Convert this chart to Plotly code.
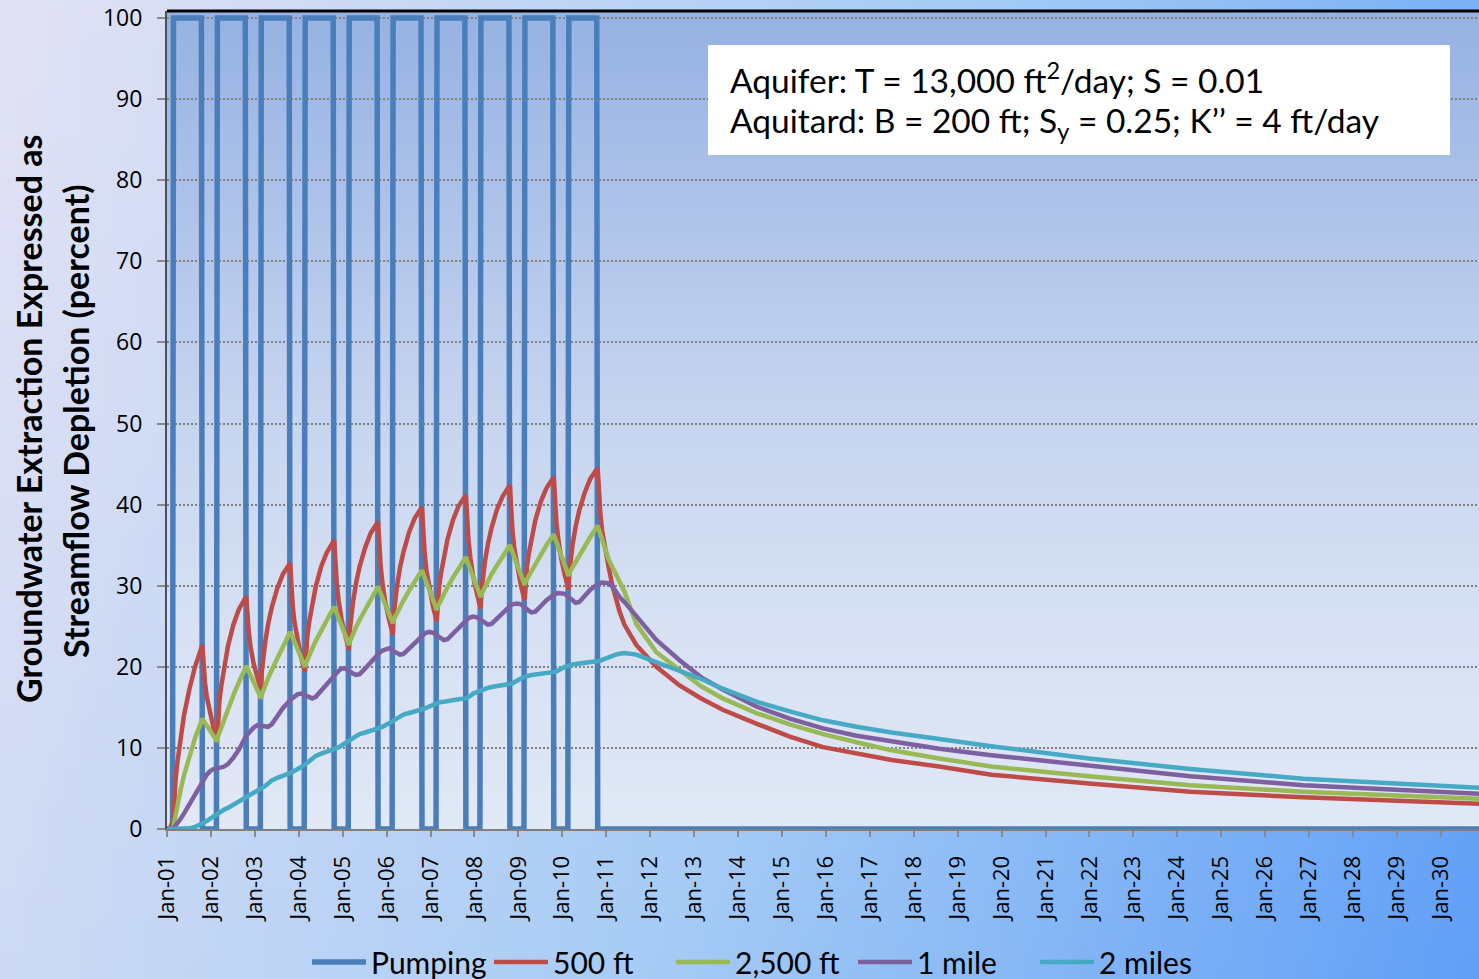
import base64, struct, zlib
import plotly.graph_objects as go

# ---------------- data ----------------
YEARS = list(range(2001, 2011))
SAMPLE_DAYS = ["01-22", "02-22", "03-01", "03-13", "03-29", "04-22", "05-22",
               "07-07", "08-22", "10-22", "11-01", "11-13", "11-28", "12-22"]
DECAY_DATES = ["2011-01-22", "2011-02-22", "2011-03-22", "2011-04-22", "2011-06-01",
               "2011-09-08", "2012-02-22", "2012-09-02", "2013-03-01", "2013-08-27",
               "2014-06-02", "2015-03-07", "2015-12-09", "2016-09-12", "2017-07-01",
               "2018-08-01", "2019-10-08", "2021-12-28", "2024-04-18", "2026-11-13",
               "2030-11-14", "2030-12-31"]
START_DATE = "2001-01-01"
END_DATE = "2030-12-31"

PUMP_EDGE_DAYS = ["02-16", "02-24", "10-14", "10-22"]
PUMP_EDGE_LEVELS = [0, 100, 100, 0]

RED_PUMPING = [
    [0.0, 1.0, 3.8, 6.0, 8.3, 11.2, 14.0, 17.3, 20.0, 22.7, 20.1, 18.0, 16.3, 14.3],
    [12.5, 11.0, 13.7, 15.8, 17.7, 20.2, 22.5, 25.2, 27.1, 28.7, 26.2, 24.1, 22.4, 20.4],
    [18.7, 17.2, 19.5, 21.4, 23.1, 25.3, 27.3, 29.7, 31.4, 32.8, 29.9, 27.4, 25.4, 23.2],
    [21.1, 19.4, 21.8, 23.8, 25.6, 27.8, 29.9, 32.4, 34.1, 35.6, 32.6, 30.2, 28.2, 25.9],
    [23.9, 22.1, 24.5, 26.4, 28.1, 30.3, 32.4, 34.7, 36.5, 37.9, 34.8, 32.3, 30.3, 27.9],
    [25.8, 24.0, 26.4, 28.2, 30.0, 32.2, 34.2, 36.6, 38.3, 39.7, 36.6, 34.1, 31.9, 29.6],
    [27.4, 25.6, 27.9, 29.8, 31.5, 33.7, 35.7, 38.1, 39.8, 41.2, 38.1, 35.6, 33.5, 31.1],
    [29.0, 27.2, 29.5, 31.3, 33.0, 35.1, 37.1, 39.4, 41.0, 42.4, 39.3, 36.7, 34.6, 32.2],
    [30.0, 28.2, 30.5, 32.3, 34.0, 36.1, 38.1, 40.4, 42.0, 43.4, 40.3, 37.8, 35.8, 33.4],
    [31.3, 29.5, 31.8, 33.6, 35.2, 37.3, 39.3, 41.5, 43.2, 44.5, 41.4, 38.9, 36.8, 34.4],
]
RED_DECAY = [32.2, 30.0, 28.3, 26.8, 25.2, 22.7, 20.0, 17.7, 16.1, 14.7, 13.0, 11.4,
             10.1, 9.3, 8.5, 7.7, 6.7, 5.6, 4.6, 3.9, 3.1, 3.1]

GREEN_PUMPING = [
    [0.0, 0.2, 0.8, 1.8, 2.9, 4.7, 6.6, 9.0, 11.2, 13.6, 13.4, 13.1, 12.8, 12.2],
    [11.5, 10.8, 11.4, 11.9, 12.6, 13.6, 14.8, 16.5, 18.1, 20.1, 19.8, 19.4, 18.9, 18.1],
    [17.1, 16.1, 16.6, 17.1, 17.7, 18.6, 19.6, 21.1, 22.5, 24.3, 24.0, 23.5, 23.0, 22.2],
    [21.1, 20.0, 20.4, 20.9, 21.4, 22.2, 23.2, 24.5, 25.8, 27.4, 27.0, 26.6, 26.0, 25.1],
    [23.9, 22.7, 23.1, 23.6, 24.1, 24.9, 25.8, 27.1, 28.3, 29.9, 29.5, 29.1, 28.6, 27.7],
    [26.5, 25.4, 25.8, 26.2, 26.6, 27.4, 28.2, 29.4, 30.5, 31.9, 31.5, 31.0, 30.4, 29.5],
    [28.2, 27.0, 27.4, 27.8, 28.2, 29.0, 29.8, 31.0, 32.1, 33.5, 33.1, 32.6, 32.0, 31.1],
    [29.8, 28.6, 29.0, 29.4, 29.8, 30.5, 31.4, 32.5, 33.6, 35.0, 34.6, 34.1, 33.5, 32.6],
    [31.3, 30.1, 30.5, 30.8, 31.3, 32.0, 32.8, 33.9, 35.0, 36.3, 35.9, 35.4, 34.8, 33.8],
    [32.5, 31.2, 31.6, 31.9, 32.4, 33.1, 33.9, 35.0, 36.0, 37.4, 37.0, 36.5, 35.8, 34.6],
]
GREEN_DECAY = [33.2, 32.3, 31.5, 30.5, 29.3, 25.3, 21.8, 19.6, 17.6, 16.1, 14.3, 12.9,
               11.7, 10.7, 9.7, 8.7, 7.7, 6.5, 5.4, 4.6, 3.7, 3.7]

PURPLE_PUMPING = [
    [0.0, 0.1, 0.2, 0.4, 0.7, 1.2, 1.9, 3.1, 4.4, 5.9, 6.1, 6.4, 6.7, 7.1],
    [7.4, 7.5, 7.5, 7.55, 7.6, 7.7, 8.0, 8.8, 9.8, 11.5, 11.7, 11.9, 12.1, 12.5],
    [12.8, 12.7, 12.65, 12.6, 12.55, 12.6, 12.9, 13.9, 14.9, 15.9, 16.0, 16.2, 16.4, 16.6],
    [16.7, 16.5, 16.4, 16.3, 16.2, 16.1, 16.3, 17.1, 17.9, 19.0, 19.1, 19.3, 19.5, 19.8],
    [19.8, 19.5, 19.4, 19.3, 19.15, 19.0, 19.1, 19.8, 20.6, 21.6, 21.7, 21.9, 22.0, 22.2],
    [22.3, 22.0, 21.9, 21.8, 21.7, 21.5, 21.6, 22.3, 23.0, 23.9, 24.0, 24.1, 24.2, 24.3],
    [24.2, 23.9, 23.8, 23.6, 23.5, 23.3, 23.4, 24.1, 24.9, 25.8, 25.9, 26.0, 26.1, 26.2],
    [26.1, 25.8, 25.7, 25.6, 25.4, 25.2, 25.3, 26.0, 26.7, 27.5, 27.6, 27.7, 27.75, 27.8],
    [27.7, 27.3, 27.2, 27.0, 26.9, 26.7, 26.8, 27.5, 28.2, 28.9, 29.0, 29.05, 29.1, 29.1],
    [29.0, 28.6, 28.5, 28.3, 28.1, 27.9, 28.0, 28.8, 29.5, 30.2, 30.3, 30.35, 30.4, 30.4],
]
PURPLE_DECAY = [30.3, 29.9, 29.3, 28.6, 28.0, 26.3, 23.3, 20.8, 18.7, 17.2, 15.1, 13.6,
                12.4, 11.5, 10.8, 9.9, 9.1, 7.8, 6.5, 5.4, 4.3, 4.3]

CYAN_PUMPING = [
    [0, 0, 0, 0, 0, 0, 0.02, 0.08, 0.25, 0.6, 0.7, 0.85, 1.0, 1.25],
    [1.5, 1.8, 1.9, 2.0, 2.15, 2.4, 2.6, 3.0, 3.3, 3.8, 3.9, 4.0, 4.15, 4.4],
    [4.6, 4.9, 5.0, 5.15, 5.3, 5.6, 6.0, 6.3, 6.5, 6.9, 6.95, 7.05, 7.15, 7.4],
    [7.65, 7.95, 8.05, 8.2, 8.4, 8.7, 9.0, 9.3, 9.5, 9.8, 9.85, 9.95, 10.05, 10.3],
    [10.55, 10.85, 10.95, 11.05, 11.2, 11.45, 11.7, 11.9, 12.1, 12.4, 12.45, 12.5, 12.6, 12.8],
    [13.0, 13.3, 13.4, 13.5, 13.65, 13.9, 14.1, 14.3, 14.45, 14.7, 14.75, 14.85, 14.95, 15.15],
    [15.3, 15.5, 15.55, 15.6, 15.65, 15.7, 15.8, 15.9, 16.0, 16.1, 16.15, 16.25, 16.4, 16.7],
    [16.9, 17.1, 17.15, 17.2, 17.3, 17.4, 17.5, 17.6, 17.65, 17.8, 17.85, 17.95, 18.1, 18.35],
    [18.55, 18.75, 18.8, 18.85, 18.9, 19.0, 19.05, 19.1, 19.15, 19.25, 19.3, 19.4, 19.55, 19.8],
    [20.0, 20.15, 20.2, 20.25, 20.3, 20.35, 20.4, 20.45, 20.5, 20.6, 20.65, 20.75, 20.85, 21.0],
]
CYAN_DECAY = [21.2, 21.4, 21.5, 21.6, 21.7, 21.5, 20.6, 19.6, 18.5, 17.3, 15.7, 14.5,
              13.4, 12.6, 11.9, 11.1, 10.2, 8.7, 7.4, 6.2, 5.1, 5.05]

SERIES_NAMES = ["Pumping", "500 ft", "2,500 ft", "1 mile", "2 miles"]
SERIES_COLORS = ["#4A7EBB", "#BE4B48", "#98B954", "#7D60A0", "#46AAC5"]

# ---------------- build ----------------
curve_x = [START_DATE] + [f"{y}-{d}" for y in YEARS for d in SAMPLE_DAYS] + DECAY_DATES


def curve_y(rows, decay):
    return [0.0] + [v for row in rows for v in row] + decay


pump_x = [START_DATE] + [f"{y}-{d}" for y in YEARS for d in PUMP_EDGE_DAYS] + [END_DATE]
pump_y = [0] + PUMP_EDGE_LEVELS * len(YEARS) + [0]


def png_uri(w, h, fn):
    raw = b"".join(b"\x00" + bytes(c for x in range(w) for c in fn(x, y)) for y in range(h))

    def chunk(tag, data):
        return (struct.pack(">I", len(data)) + tag + data
                + struct.pack(">I", zlib.crc32(tag + data) & 0xFFFFFFFF))

    png = (b"\x89PNG\r\n\x1a\n"
           + chunk(b"IHDR", struct.pack(">IIBBBBB", w, h, 8, 2, 0, 0, 0))
           + chunk(b"IDAT", zlib.compress(raw, 9)) + chunk(b"IEND", b""))
    return "data:image/png;base64," + base64.b64encode(png).decode()


def grad(stops, t):
    t = max(0.0, min(1.0, t))
    for (t0, c0), (t1, c1) in zip(stops, stops[1:]):
        if t <= t1:
            f = (t - t0) / (t1 - t0) if t1 > t0 else 0
            return tuple(int(round(a + (b - a) * f)) for a, b in zip(c0, c1))
    return stops[-1][1]


PAPER_STOPS = [(0.0, (226, 226, 244)), (0.55, (165, 203, 245)), (1.0, (98, 160, 246))]
PLOT_STOPS = [(0.0, (151, 179, 226)), (0.25, (176, 196, 234)), (0.5, (200, 213, 239)),
              (0.75, (215, 225, 243)), (1.0, (225, 232, 246))]

paper_img = png_uri(48, 48, lambda x, y: grad(PAPER_STOPS, 0.82 * x / 47 + 0.18 * y / 47))
plot_img = png_uri(2, 64, lambda x, y: grad(PLOT_STOPS, y / 63))

W, H = 1479, 979
ML, MR, MT, MB = 167, 0, 11, 150
PW, PH = W - ML - MR, H - MT - MB

fig = go.Figure()
fig.add_trace(go.Scatter(x=pump_x, y=pump_y, mode="lines", name=SERIES_NAMES[0],
                         line=dict(color=SERIES_COLORS[0], width=5.5), cliponaxis=False))
for name, color, rows, decay in zip(SERIES_NAMES[1:], SERIES_COLORS[1:],
                                    [RED_PUMPING, GREEN_PUMPING, PURPLE_PUMPING, CYAN_PUMPING],
                                    [RED_DECAY, GREEN_DECAY, PURPLE_DECAY, CYAN_DECAY]):
    fig.add_trace(go.Scatter(x=curve_x, y=curve_y(rows, decay), mode="lines", name=name,
                             line=dict(color=color, width=4.5), cliponaxis=False))

TEXT_FONT = "Lato"

fig.update_layout(
    width=W, height=H, autosize=False,
    margin=dict(l=ML, r=MR, t=MT, b=MB, pad=0, autoexpand=False),
    paper_bgcolor="#dfe3f3", plot_bgcolor="rgba(0,0,0,0)",
    showlegend=True,
    legend=dict(orientation="h", x=(762 - ML) / PW, xanchor="center",
                y=(829 - 962) / PH, yanchor="middle",
                font=dict(family=TEXT_FONT, size=30, color="black"),
                bgcolor="rgba(0,0,0,0)", itemwidth=54, tracegroupgap=0,
                entrywidth=113, entrywidthmode="pixels"),
    xaxis=dict(type="date", range=[START_DATE, "2030-11-14"], tick0=START_DATE,
               dtick="M12", tickformat="%b-%y", tickangle=-90, ticks="outside",
               ticklen=6, tickwidth=1.5, tickcolor="#8a8a8a", showgrid=False,
               showline=True, linecolor="#7f7f7f", linewidth=2, layer="below traces",
               tickfont=dict(family="Open Sans", size=22, color="black"), zeroline=False,
               ticklabelstandoff=10),
    yaxis=dict(range=[0, 100 + 7 / 8.11], tick0=0, dtick=10, ticks="outside",
               ticklen=8, tickwidth=1.5, tickcolor="#8a8a8a", showgrid=True,
               gridcolor="#808080", gridwidth=1.5, griddash="2px,2px",
               showline=True, linecolor="#505050", linewidth=2, zeroline=False,
               tickfont=dict(family="Open Sans", size=23, color="black"),
               ticklabelstandoff=10),
    images=[
        dict(source=paper_img, xref="paper", yref="paper", x=-ML / PW, y=1 + MT / PH,
             sizex=W / PW, sizey=H / PH, xanchor="left", yanchor="top",
             sizing="stretch", layer="below"),
        dict(source=plot_img, xref="paper", yref="paper", x=0, y=1, sizex=1, sizey=1,
             xanchor="left", yanchor="top", sizing="stretch", layer="below"),
    ],
    shapes=[
        dict(type="line", xref="paper", yref="paper", x0=0, x1=1, y0=1, y1=1,
             line=dict(color="black", width=3)),
        dict(type="rect", xref="paper", yref="paper",
             x0=(708 - ML) / PW, x1=(1450 - ML) / PW,
             y0=(829 - 155) / PH, y1=(829 - 45) / PH,
             fillcolor="white", line=dict(width=0), layer="above"),
    ],
)

fig.add_annotation(text="Aquifer: T = 13,000 ft<sup>2</sup>/day; S = 0.01",
                   xref="paper", yref="paper", x=(728 - ML) / PW, y=(829 - 78) / PH,
                   xanchor="left", yanchor="middle", showarrow=False, align="left",
                   font=dict(family=TEXT_FONT, size=33.5, color="black"))
fig.add_annotation(text="Aquitard: B = 200 ft; S<sub>y</sub> = 0.25; K\u2019\u2019 = 4 ft/day",
                   xref="paper", yref="paper", x=(728 - ML) / PW, y=(829 - 122) / PH,
                   xanchor="left", yanchor="middle", showarrow=False, align="left",
                   font=dict(family=TEXT_FONT, size=33.5, color="black"))

fig.add_annotation(text="<b>Groundwater Extraction Expressed as</b>",
                   xref="paper", yref="paper", x=(28 - ML) / PW, y=(829 - 419) / PH,
                   xanchor="center", yanchor="middle", textangle=-90, showarrow=False,
                   font=dict(family=TEXT_FONT, size=34, color="black"))
fig.add_annotation(text="<b>Streamflow Depletion (percent)</b>",
                   xref="paper", yref="paper", x=(76 - ML) / PW, y=(829 - 421) / PH,
                   xanchor="center", yanchor="middle", textangle=-90, showarrow=False,
                   font=dict(family=TEXT_FONT, size=34, color="black"))

fig.write_html("out.html",
               config={"displayModeBar": False, "responsive": False},
               post_script="document.body.style.margin='0px';"
                           "document.body.style.overflow='hidden';")
